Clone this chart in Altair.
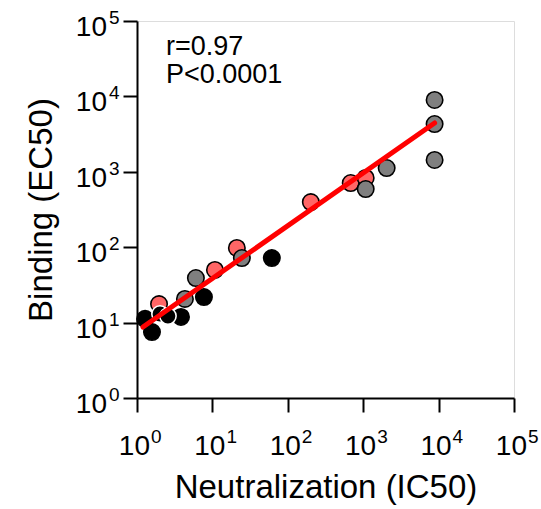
import altair as alt
import pandas as pd

# ---- data ----
red_x = [202, 683, 1079, 21.1, 10.8, 1.96]
red_y = [397, 710, 828, 97.6, 49.9, 17.6]

gray_x = [8850, 8850, 8850, 2047, 1079, 24.6, 6.04, 4.32]
gray_y = [8960, 4300, 1435, 1123, 591, 71.9, 39.0, 20.6]

black_x = [61.4, 7.72, 3.83, 1.28, 1.58, 2.02, 2.57]
black_y = [71.9, 21.8, 11.9, 11.2, 7.5, 13.0, 12.2]
black_edge = ["black", "black", "black", "black", "black", "white", "white"]

fit_x = [1.2, 8850]
fit_y = [8.74, 4440]

tick_values = [1, 10, 100, 1000, 10000, 100000]
tick_base = ["10", "10", "10", "10", "10", "10"]
tick_exp = ["0", "1", "2", "3", "4", "5"]

annot_text = ["r=0.97", "P<0.0001"]
annot_x = [2.42, 2.42]
annot_y = [35400, 15060]

FONT = "Liberation Sans"

rows = []
for x, y in zip(red_x, red_y):
    rows.append({"x": x, "y": y, "grp": "red", "edge": "black"})
for x, y in zip(gray_x, gray_y):
    rows.append({"x": x, "y": y, "grp": "gray", "edge": "black"})
for x, y, e in zip(black_x, black_y, black_edge):
    rows.append({"x": x, "y": y, "grp": "black", "edge": e})
pts = pd.DataFrame(rows)
pts["order"] = range(len(pts))

fit = pd.DataFrame({"x": fit_x, "y": fit_y})
ann = pd.DataFrame({"x": annot_x, "y": annot_y, "t": annot_text})
ticks = pd.DataFrame({"v": tick_values, "base": tick_base, "exp": tick_exp})

xscale = alt.Scale(type="log", domain=[1, 100000], nice=False)
yscale = alt.Scale(type="log", domain=[1, 100000], nice=False)

common_axis = dict(
    values=tick_values, labels=False, grid=False, domainColor="black",
    domainWidth=2, tickColor="black", tickWidth=2, tickSize=14,
    titleFont=FONT, titleFontSize=33, titleFontWeight="normal",
    titleColor="black", titleBaseline="alphabetic", titleAlign="center",
)
xaxis = alt.Axis(title="Neutralization (IC50)", titleX=188.5, titleY=99, **common_axis)
yaxis = alt.Axis(title="Binding (EC50)", titleX=-86, titleY=188.5, titleAngle=270,
                 **common_axis)

points = alt.Chart(pts).mark_point(
    filled=True, shape="circle", size=270, strokeWidth=1.6, opacity=1
).encode(
    x=alt.X("x:Q", scale=xscale, axis=xaxis),
    y=alt.Y("y:Q", scale=yscale, axis=yaxis),
    fill=alt.Fill("grp:N", scale=alt.Scale(domain=["red", "gray", "black"],
                                           range=["#ff6666", "#7f7f7f", "#000000"]), legend=None),
    stroke=alt.Stroke("edge:N", scale=alt.Scale(domain=["black", "white"],
                                                range=["#000000", "#ffffff"]), legend=None),
    order=alt.Order("order:Q"),
)

line = alt.Chart(fit).mark_line(color="#ff0000", strokeWidth=5, strokeCap="round").encode(
    x=alt.X("x:Q", scale=xscale),
    y=alt.Y("y:Q", scale=yscale),
)

text = alt.Chart(ann).mark_text(
    align="left", baseline="alphabetic", font=FONT, fontSize=27, color="black"
).encode(
    x=alt.X("x:Q", scale=xscale),
    y=alt.Y("y:Q", scale=yscale),
    text="t:N",
)

# tick labels: base "10" plus a raised exponent
xl_base = alt.Chart(ticks).mark_text(
    align="right", baseline="alphabetic", dx=13, font=FONT, fontSize=28, color="black"
).encode(x=alt.X("v:Q", scale=xscale), y=alt.value(434), text="base:N")
xl_exp = alt.Chart(ticks).mark_text(
    align="left", baseline="alphabetic", dx=14, font=FONT, fontSize=19, color="black"
).encode(x=alt.X("v:Q", scale=xscale), y=alt.value(422), text="exp:N")

yl_base = alt.Chart(ticks).mark_text(
    align="right", baseline="alphabetic", dy=15, font=FONT, fontSize=28, color="black"
).encode(y=alt.Y("v:Q", scale=yscale), x=alt.value(-30), text="base:N")
yl_exp = alt.Chart(ticks).mark_text(
    align="left", baseline="alphabetic", dy=3, font=FONT, fontSize=19, color="black"
).encode(y=alt.Y("v:Q", scale=yscale), x=alt.value(-28), text="exp:N")

chart = alt.layer(points, line, text, xl_base, xl_exp, yl_base, yl_exp).properties(
    width=377, height=377,
    autosize=alt.AutoSizeParams(type="none"),
    padding={"left": 137, "top": 21, "right": 27, "bottom": 111},
).configure_view(stroke=None).configure(background="white")

chart.save("out.html", embed_options={"renderer": "svg", "actions": False})
